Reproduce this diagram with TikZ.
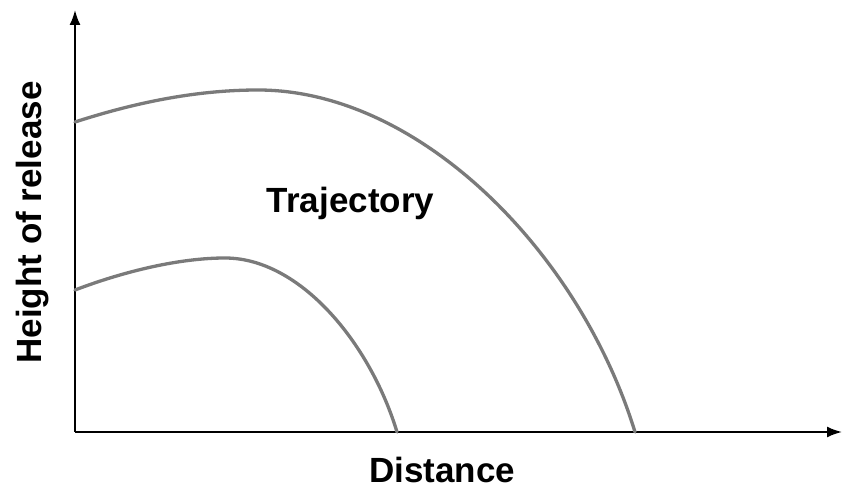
\documentclass[tikz,border=0pt]{standalone}
\usepackage{fontspec}
\setmainfont{Liberation Sans}
\usetikzlibrary{arrows.meta}
\begin{document}
\begin{tikzpicture}[x=1pt,y=1pt,
  axis/.style={line width=2pt,black,-{Latex[length=15pt,width=11pt]}},
  traj/.style={line width=3.3pt,color=black!52,line cap=round,line join=round},
  lbl/.style={font=\bfseries\fontsize{35}{40}\selectfont,inner sep=0pt}]
\useasboundingbox (0,0) rectangle (844,493);
\coordinate (O) at (75,61);
\coordinate (Ytip) at (75,483);
\coordinate (Xtip) at (842,61);
\draw[axis] (O) -- (Ytip);
\draw[axis] (O) -- (Xtip);
\coordinate (u0) at (75,371);
\coordinate (u1) at (258,403);
\coordinate (u2) at (635,61);
\draw[traj] (u0) .. controls (140,392) and (200,403) .. (u1)
  .. controls (420,403) and (580,240) .. (u2);
\coordinate (l0) at (75,203);
\coordinate (l1) at (225,235);
\coordinate (l2) at (397,61);
\draw[traj] (l0) .. controls (125,222) and (180,235) .. (l1)
  .. controls (300,235) and (370,150) .. (l2);
\node[lbl,anchor=base] (trj) at (350.5,280) {Trajectory};
\node[lbl,anchor=base] (dst) at (442,10) {Distance};
\node[lbl,anchor=base,rotate=90] (hgt) at (42,270.5) {Height of release};
\end{tikzpicture}
\end{document}
